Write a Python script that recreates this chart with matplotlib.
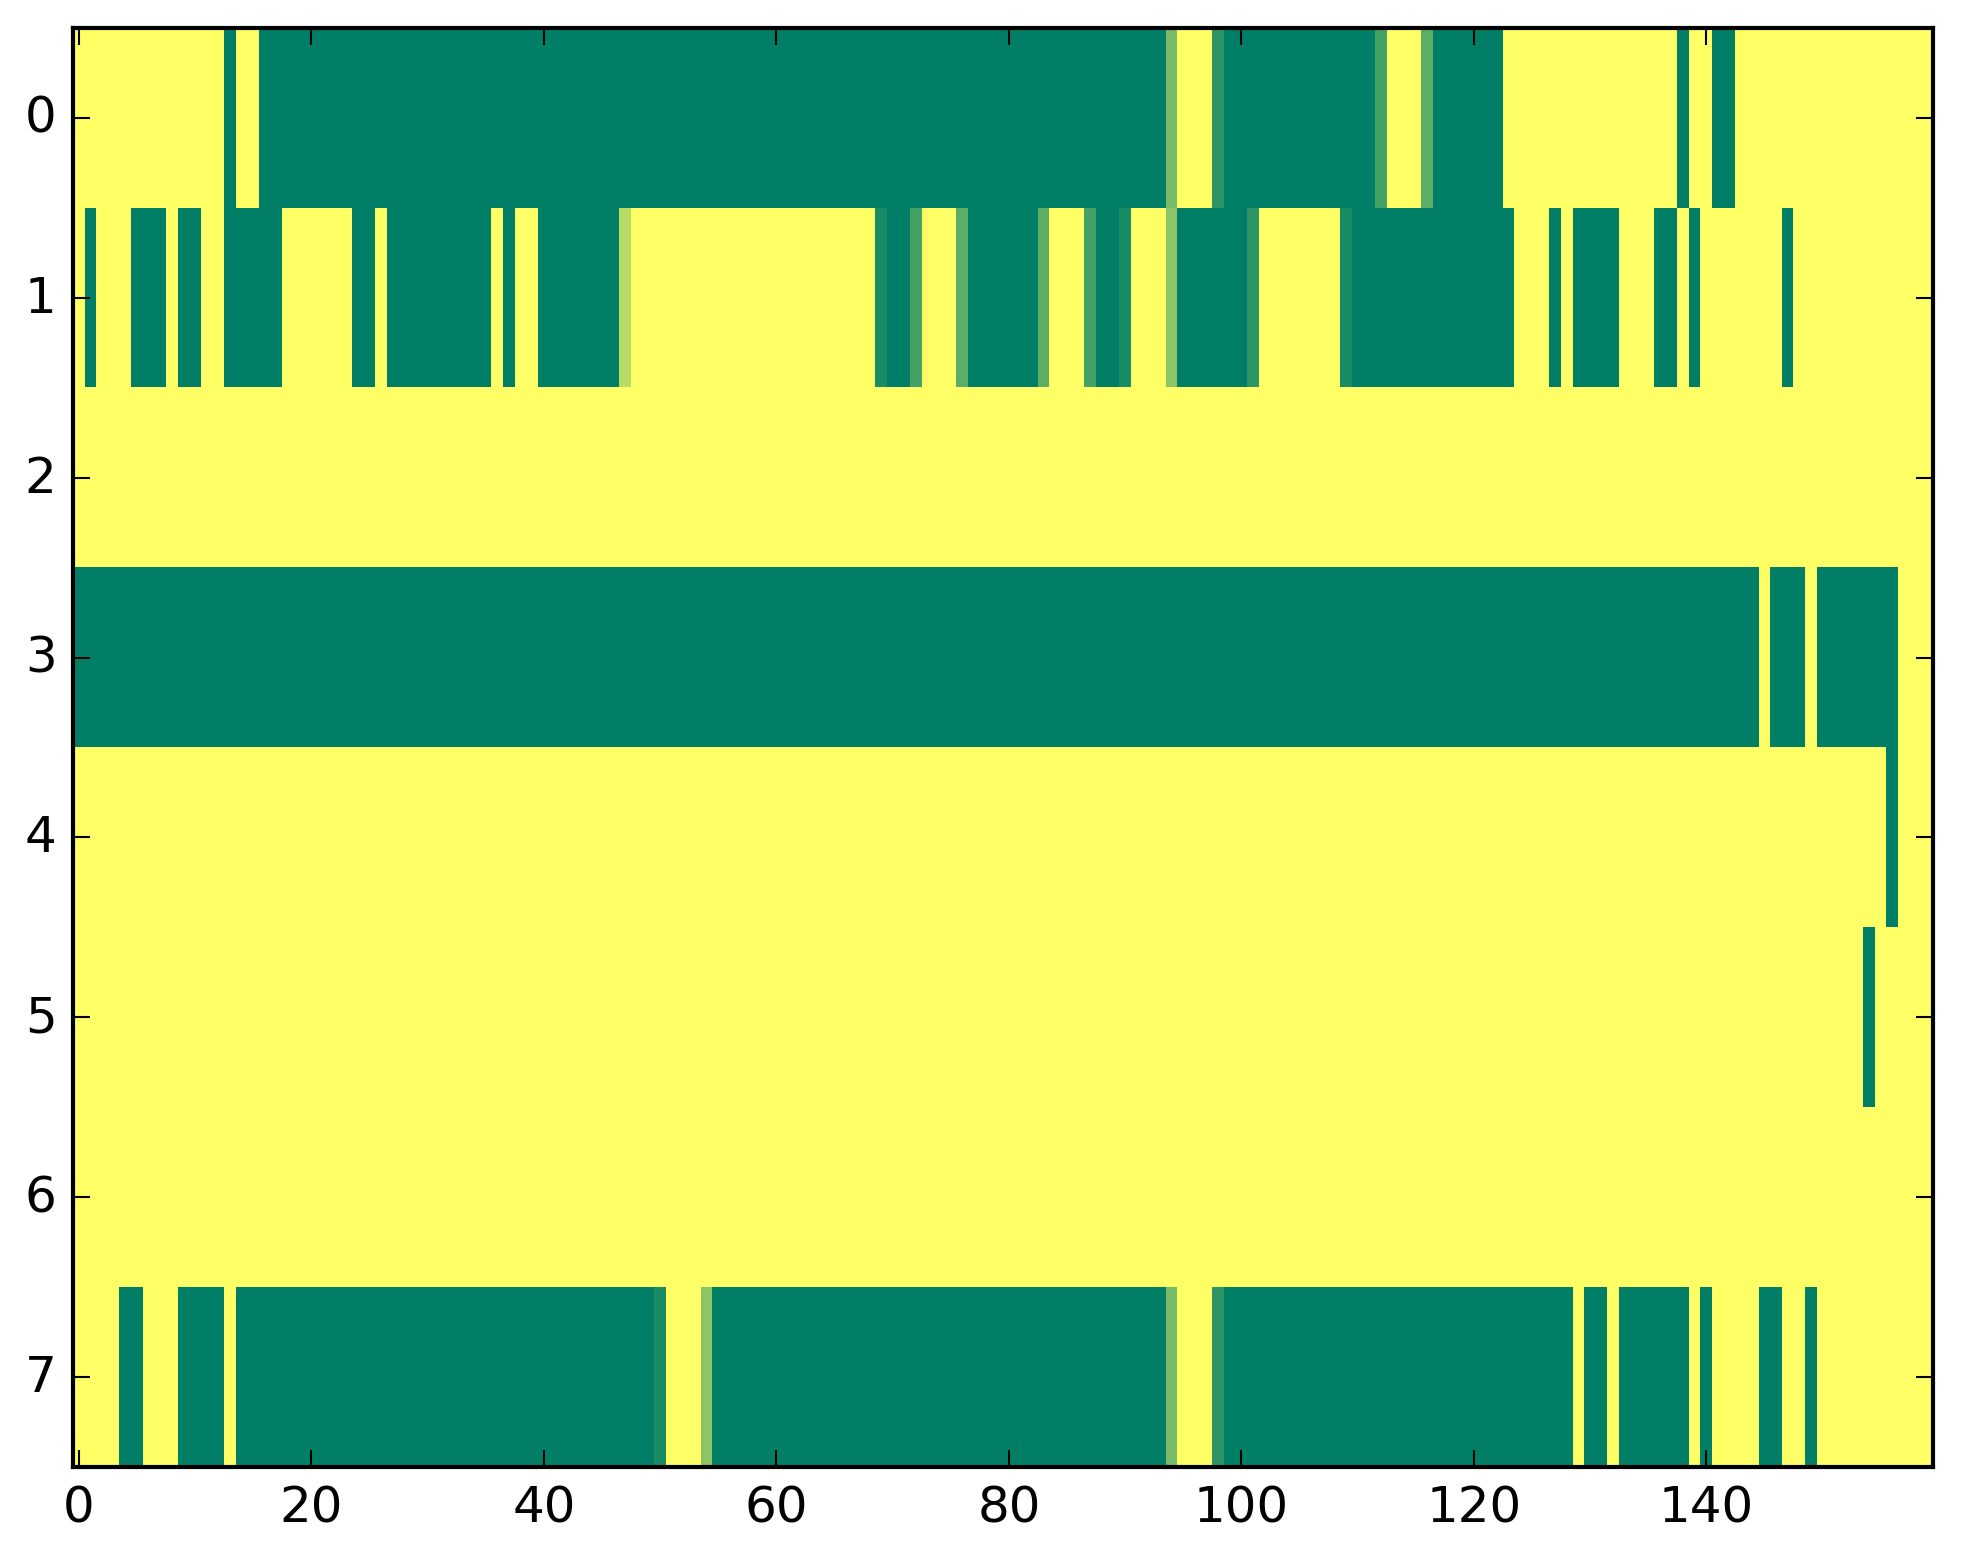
import numpy as np
import matplotlib
matplotlib.use("Agg")
import matplotlib.pyplot as plt

plt.style.use("classic")
plt.rcParams['font.family'] = ['DejaVu Sans']

# Run-length encoded rows: (value, count) pairs, 160 columns per row
row0 = [(1, 13), (0, 1), (1, 2), (0, 78), (0.47, 1), (1, 3), (0.18, 1), (0, 13),
        (0.27, 1), (1, 3), (0.36, 1), (0, 6), (1, 15), (0, 1), (1, 2), (0, 2), (1, 17)]
row1 = [(1, 1), (0, 1), (1, 3), (0, 3), (1, 1), (0, 2), (1, 2), (0, 5), (1, 6), (0, 2),
        (1, 1), (0, 9), (1, 1), (0, 1), (1, 2), (0, 7), (0.72, 1), (1, 21), (0.1, 1),
        (0, 2), (0.27, 1), (1, 3), (0.36, 1), (0, 6), (0.36, 1), (1, 3), (0.27, 1),
        (0, 2), (0.1, 1), (1, 3), (0.55, 1), (0, 6), (0.18, 1), (1, 7), (0.1, 1),
        (0, 14), (1, 3), (0, 1), (1, 1), (0, 4), (1, 3), (0, 2), (1, 1), (0, 1),
        (1, 7), (0, 1), (1, 12)]
row2 = [(1, 160)]
row3 = [(0, 145), (1, 1), (0, 3), (1, 1), (0, 7), (1, 3)]
row4 = [(1, 156), (0, 1), (1, 3)]
row5 = [(1, 154), (0, 1), (1, 5)]
row6 = [(1, 160)]
row7 = [(1, 4), (0, 2), (1, 3), (0, 4), (1, 1), (0, 36), (0.1, 1), (1, 3), (0.55, 1),
        (0, 39), (0.47, 1), (1, 3), (0.18, 1), (0, 30), (1, 1), (0, 2), (1, 1), (0, 6),
        (1, 1), (0, 1), (1, 4), (0, 2), (1, 2), (0, 1), (1, 10)]

rows = [row0, row1, row2, row3, row4, row5, row6, row7]
xticks = [0, 20, 40, 60, 80, 100, 120, 140]
yticks = [0, 1, 2, 3, 4, 5, 6, 7]


def expand(runs):
    vals = [v for v, n in runs]
    counts = [n for v, n in runs]
    return np.repeat(vals, counts)


data = np.vstack([expand(r) for r in rows])

W, H = 1963, 1564
fig = plt.figure(figsize=(W / 300, H / 300), dpi=300, facecolor='white')
ax = fig.add_axes([73.2 / W, (H - 1468) / H, (1933 - 73.2) / W, (1468 - 29) / H])
ax.imshow(data, cmap='summer', vmin=0, vmax=1, aspect='auto', interpolation='nearest')
ax.set_xticks(xticks)
ax.set_yticks(yticks)
ax.set_xlim(-0.5, data.shape[1] - 0.5)
ax.set_ylim(data.shape[0] - 0.5, -0.5)
ax.tick_params(labelsize=12)
fig.savefig("out.png", dpi=300, facecolor='white')
